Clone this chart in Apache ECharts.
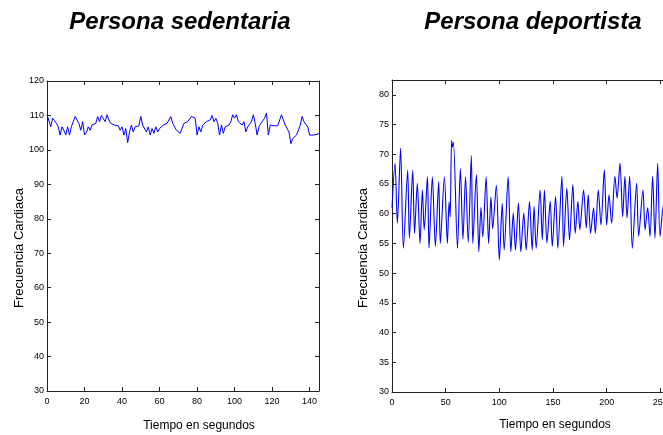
<!DOCTYPE html>
<html>
<head>
<meta charset="utf-8">
<script src="https://cdn.jsdelivr.net/npm/echarts@6/dist/echarts.min.js"></script>
<style>
html,body{margin:0;padding:0;background:#fff;overflow:hidden;width:663px;height:435px;}
#c{width:690px;height:435px;}
</style>
</head>
<body>
<div id="c"></div>
<script>
// ---- Titles / labels ----
const tituloSedentaria = 'Persona sedentaria';
const tituloDeportista = 'Persona deportista';
const nombreEjeY = 'Frecuencia Cardiaca';
const nombreEjeX = 'Tiempo en segundos';

// ---- Persona sedentaria: one sample per second (t = 0..145) ----
const sedentariaFC = [
110.2,110.2,106.7,109.2,108.5,107.7,106.7,104.3,106.7,105.7,
104.3,106.7,104.3,106.7,108.2,109.7,110.2,107.7,105.7,108.2,
104.3,105.0,106.7,105.7,107.2,107.2,107.7,109.7,108.2,110.0,
109.7,108.2,110.2,108.7,107.7,107.2,107.2,107.2,107.0,105.7,
106.7,104.3,106.2,102.1,105.2,107.2,105.2,106.7,107.0,107.0,
109.7,107.2,106.7,105.2,106.7,104.3,106.2,104.8,106.7,105.2,
106.2,105.7,107.2,107.2,107.7,107.7,109.7,107.7,107.2,105.7,
106.2,104.8,105.2,107.7,107.2,108.2,107.7,109.7,110.2,109.2,
104.3,106.7,105.2,107.2,106.7,108.2,107.7,108.7,110.0,108.2,
109.2,107.7,104.3,107.2,104.8,106.7,107.2,107.2,108.2,110.2,
109.2,110.2,108.2,107.7,107.2,108.2,105.2,106.7,107.2,108.2,
110.2,107.7,104.3,106.7,107.7,107.2,109.2,110.7,104.3,107.2,
107.0,107.0,107.2,107.0,107.2,110.2,109.7,107.2,106.7,105.2,
101.8,103.3,102.8,104.3,104.8,107.2,109.7,108.2,107.7,106.7,
104.3,104.3,104.3,104.3,104.5,104.8
];
const sedentariaTiempo = sedentariaFC.map((v, i) => i); // sample index = seconds

// ---- Persona deportista: turning points ----
const deportistaTiempo = [
0,2.8,5,8,10.6,14.6,16.2,19.3,21,23.6,26.1,28.3,30,33,34.5,37.6,40.4,43.5,45,48.8,
51.6,53.2,54.2,55.5,56.3,57.2,61,63.7,66.1,68.5,71,73.9,75.3,78.6,80.9,82.9,84.6,87.7,90,92.2,
93.8,97.2,100,102.7,104.5,108.2,110.7,113,115,117.8,120,122.8,125,128.1,130.6,132.4,134.3,138,140,142,
144.3,147.4,149.3,152.4,154.5,158.3,159.8,162.9,165.4,168.5,170.7,173.2,175,178.5,181,182.8,185,187.8,189.4,192.2,
194.7,197.8,200,202.2,204.6,207.7,209.7,212.4,214.9,217,219,221.4,223.9,227.9,229.8,233.8,235.8,238.2,240.4,242.8,
245,247.5,249.7,252.8,254.5,256.5,258.5
];
const deportistaFC = [
61,68.5,58.4,71,54.2,67.3,55.9,67.3,56.7,65.1,55,64,57.3,66.2,54.2,66.2,54.5,65.4,55,66.2,
55,62,59.5,72.3,71.2,72,54.2,67.6,55.7,66.2,55.2,69.8,55,66.6,53.6,61.1,56.1,66.2,55,62.8,
57.5,64.8,52.2,61.7,53.9,66.2,53.6,60.1,53.9,61.8,53.6,60.1,53.9,62,53.9,61.2,54.2,64,55.6,64,
55.1,62.1,54.5,62.9,54.2,66.3,54.5,64.3,55.6,64.9,56.7,62.1,57.3,64,57.6,63.2,56.7,61,56.7,64,
58.1,67.4,58.1,63.2,58.4,66.3,62.6,68.5,59.5,66.3,59.3,66.3,54.2,65.1,56.2,64,57.3,61,56.2,66.3,
55.9,68.5,56.2,61.4,57,62,58
];

// ---- Axis ticks ----
const sedX = {min: 0, max: 145, interval: 20};
const sedY = {min: 30, max: 120, interval: 10};
const depX = {min: 0, max: 259, interval: 50};
const depY = {min: 30, max: 82.5, interval: 5};

const FONT = 'Liberation Sans, Arial, sans-serif';
const AXC = '#222';

function xAx(grid, s, pos, labels) {
  return {
    type: 'value', gridIndex: grid, position: pos, min: s.min, max: s.max, interval: s.interval,
    axisLine: {show: true, onZero: false, lineStyle: {color: AXC, width: 1}},
    axisTick: {show: true, inside: true, length: 4, lineStyle: {color: AXC}},
    axisLabel: {show: labels, showMaxLabel: false, color: '#000', fontSize: 9, fontFamily: FONT, margin: 6},
    splitLine: {show: false}
  };
}
function yAx(grid, s, pos, labels) {
  return {
    type: 'value', gridIndex: grid, position: pos, min: s.min, max: s.max, interval: s.interval,
    axisLine: {show: true, onZero: false, lineStyle: {color: AXC, width: 1}},
    axisTick: {show: true, inside: true, length: 4, lineStyle: {color: AXC}},
    axisLabel: {show: labels, showMaxLabel: s.max % s.interval === 0, color: '#000', fontSize: 9, fontFamily: FONT, margin: 3},
    splitLine: {show: false}
  };
}

const chart = echarts.init(document.getElementById('c'), null, {renderer: 'canvas'});
chart.setOption({
  animation: false,
  backgroundColor: '#fff',
  title: [
    {text: tituloSedentaria, left: 175, top: 5, textAlign: 'center',
     textStyle: {fontFamily: FONT, fontSize: 24, fontWeight: 'bold', fontStyle: 'italic', color: '#000'}},
    {text: tituloDeportista, left: 528, top: 5, textAlign: 'center',
     textStyle: {fontFamily: FONT, fontSize: 24, fontWeight: 'bold', fontStyle: 'italic', color: '#000'}}
  ],
  grid: [
    {left: 47, top: 81, width: 272, height: 310, containLabel: false},
    {left: 392, top: 80, width: 278, height: 312, containLabel: false}
  ],
  xAxis: [
    xAx(0, sedX, 'bottom', true), xAx(0, sedX, 'top', false),
    xAx(1, depX, 'bottom', true), xAx(1, depX, 'top', false)
  ],
  yAxis: [
    yAx(0, sedY, 'left', true), yAx(0, sedY, 'right', false),
    yAx(1, depY, 'left', true), yAx(1, depY, 'right', false)
  ],
  series: [
    {type: 'line', xAxisIndex: 0, yAxisIndex: 0, showSymbol: false, symbol: 'none',
     data: sedentariaTiempo.map((t, i) => [t, sedentariaFC[i]]),
     lineStyle: {color: '#0000ff', width: 1}},
    {type: 'line', xAxisIndex: 2, yAxisIndex: 2, showSymbol: false, symbol: 'none', smooth: 0.3,
     data: deportistaTiempo.map((t, i) => [t, deportistaFC[i]]),
     lineStyle: {color: '#0000ff', width: 1.1}}
  ],
  graphic: [
    {type: 'text', x: 19, y: 248, rotation: Math.PI / 2,
     style: {text: nombreEjeY, font: '13px ' + FONT, fill: '#000', textAlign: 'center', textVerticalAlign: 'middle'}},
    {type: 'text', x: 363, y: 248, rotation: Math.PI / 2,
     style: {text: nombreEjeY, font: '13px ' + FONT, fill: '#000', textAlign: 'center', textVerticalAlign: 'middle'}},
    {type: 'text', x: 199, y: 426,
     style: {text: nombreEjeX, font: '12px ' + FONT, fill: '#000', textAlign: 'center', textVerticalAlign: 'middle'}},
    {type: 'text', x: 555, y: 425,
     style: {text: nombreEjeX, font: '12px ' + FONT, fill: '#000', textAlign: 'center', textVerticalAlign: 'middle'}}
  ]
});
</script>
</body>
</html>
